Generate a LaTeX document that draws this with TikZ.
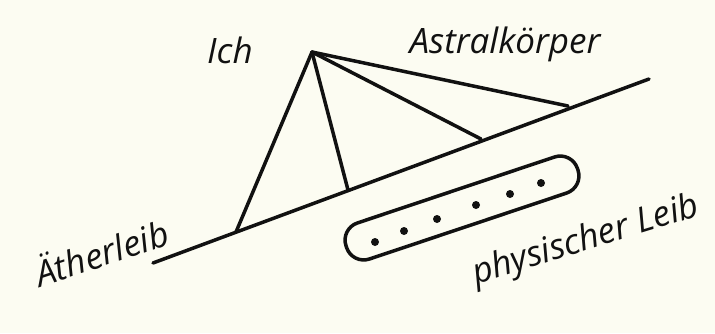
\documentclass[tikz,border=0pt]{standalone}
\usepackage{fontspec}
\setmainfont{Open Sans}
\usetikzlibrary{positioning, calc}
\definecolor{paper}{HTML}{FCFCF2}
\definecolor{ink}{HTML}{111111}
\tikzset{
    stroke/.style={draw=ink, line width=3.5pt, line cap=round},
    handlabel/.style={font=\itshape\fontsize{35}{35}\selectfont, text=ink, inner sep=0pt},
    leibbox/.style={
        rectangle, rounded corners=18pt, draw=ink, line width=3.5pt,
        minimum width=244pt, minimum height=38pt, rotate=18.5
    },
    leibdot/.style={circle, fill=ink, inner sep=0pt, minimum size=8pt}
}

\begin{document}
\begin{tikzpicture}[x=1pt, y=-1pt]

% === PAGE ===
\fill[paper] (0,0) rectangle (715,333);
\useasboundingbox (0,0) rectangle (715,333);

% === POINTS ===
\coordinate (apex)   at (312,52);
\coordinate (lineA)  at (153,263);
\coordinate (lineB)  at (649,79);
\coordinate (footA)  at (236,232);
\coordinate (footB)  at (348,190);
\coordinate (footC)  at (481,139);
\coordinate (footD)  at (568,106);

% === LABELS ===
\node (ich)    [handlabel]             at (230,50)  {Ich};
\node (astral) [handlabel]             at (505,44)  {Astralkörper};
\node (aether) [handlabel, rotate=18]  at (101,251) {Ätherleib};
\node (phys)   [handlabel, rotate=17]  at (586,241) {physischer Leib};

% === BODIES ===
\draw [stroke] (lineA) -- (lineB);
\foreach \f in {footA, footB, footC, footD}
    \draw [stroke] (apex) -- (\f);

\node (physleib) [leibbox] at (462,208) {};
\foreach \dx/\dy in {375/242, 404/231, 437/219, 476/205, 510/194, 541/183}
    \node [leibdot] at (\dx,\dy) {};

\end{tikzpicture}
\end{document}
